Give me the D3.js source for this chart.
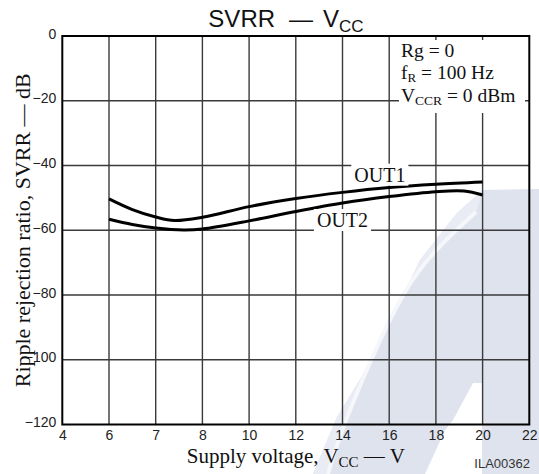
<!DOCTYPE html>
<html><head><meta charset="utf-8">
<script src="https://cdn.jsdelivr.net/npm/d3@7"></script>
<style>body{margin:0;background:#fff}svg{display:block}</style>
</head><body><svg id="c" width="539" height="474"></svg>
<script>
// ---- data ----
const xTicks = [4, 6, 7, 8, 10, 12, 14, 16, 18, 20, 22];
const yTicks = [0, -20, -40, -60, -80, -100, -120];
const out1V  = [6, 6.5, 7, 7.4, 8, 10, 12, 14, 16, 18, 20];
const out1dB = [-50.3, -53.6, -55.9, -57.0, -56.0, -52.7, -50.2, -48.3, -46.8, -45.8, -45.1];
const out2V  = [6, 6.5, 7, 7.6, 8, 10, 12, 14, 16, 18, 19.2, 20];
const out2dB = [-56.6, -58.2, -59.3, -59.9, -59.6, -57.1, -54.2, -51.6, -49.6, -48.1, -47.9, -49.1];

const L = 62.3, R = 529.3, T = 36, B = 424.5;
const svg = d3.select("#c");
const SERIF = "'Liberation Serif','Times New Roman',serif";
const SANS = "'Liberation Sans',Arial,sans-serif";

const x = d3.scaleLinear().domain(xTicks)
  .range(xTicks.map((d, i) => L + i * (R - L) / (xTicks.length - 1)));
const y = d3.scaleLinear().domain([0, -120]).range([T, B]);

// ---- watermark (decorative) ----
const wm = svg.append("g");
wm.append("path").attr("fill", "#dfe3ee")
  .attr("d", "M313,474 L337,417 L370,363 L393,317 L420,260 L457,213 L483,190 L539,189 L539,474 Z");
wm.append("path").attr("fill", "#e9ecf4")
  .attr("d", "M313,474 L337,417 L370,363 L393,317 L420,260 L457,213 L483,190 L476,212 L412,277 L381,337 L358,390 L338,440 L328,474 Z");
wm.append("path").attr("fill", "none").attr("stroke", "#f6f7fb").attr("stroke-width", 4)
  .attr("d", d3.line().curve(d3.curveBasis)([[476,212],[440,245],[410,280],[381,337],[358,390],[338,440],[328,474]]));
wm.append("path").attr("fill", "#fff")
  .attr("d", "M473,383 L482,383 L482,474 L425,474 L445,430 L453,420 Z");

// ---- grid ----
const g = svg.append("g");
g.selectAll("line.v").data(xTicks.slice(1, -1)).join("line")
  .attr("x1", d => x(d)).attr("x2", d => x(d)).attr("y1", T).attr("y2", B)
  .attr("stroke", "#3a3a3a").attr("stroke-width", 1.4);
g.selectAll("line.h").data(yTicks.slice(1, -1)).join("line")
  .attr("x1", L).attr("x2", R).attr("y1", d => y(d)).attr("y2", d => y(d))
  .attr("stroke", "#3a3a3a").attr("stroke-width", 1.4);

// ---- axes labels ----
const yAxis = svg.append("g").attr("transform", `translate(${L},0)`)
  .call(d3.axisLeft(y).tickValues(yTicks).tickSize(0).tickPadding(6)
    .tickFormat(d => d === 0 ? "0" : "\u2212" + Math.abs(d)));
yAxis.select(".domain").remove();
yAxis.selectAll("text").attr("font-family", SANS).attr("font-size", 14).attr("fill", "#222").attr("dy", "0.15em");

const xAxis = svg.append("g").attr("transform", `translate(0,${B})`)
  .call(d3.axisBottom(x).tickValues(xTicks).tickSize(0).tickPadding(6).tickFormat(d3.format("d")));
xAxis.select(".domain").remove();
xAxis.selectAll("text").attr("font-family", SANS).attr("font-size", 14).attr("fill", "#222");

// ---- annotation box ----
svg.append("rect").attr("x", 399).attr("y", 40).attr("width", 126).attr("height", 73).attr("fill", "#fff");
const ann = svg.append("g").attr("font-family", SERIF).attr("font-size", 19.5).attr("fill", "#111");
ann.append("text").attr("x", 401).attr("y", 56.7).text("Rg = 0");
const t2 = ann.append("text").attr("x", 401).attr("y", 78.5);
t2.append("tspan").text("f");
t2.append("tspan").attr("font-size", 13).attr("dy", 3).text("R");
t2.append("tspan").attr("dy", -3).text(" = 100 Hz");
const t3 = ann.append("text").attr("x", 401).attr("y", 101.7);
t3.append("tspan").text("V");
t3.append("tspan").attr("font-size", 13.5).attr("dy", 3).text("CCR");
t3.append("tspan").attr("dy", -3).text(" = 0 dBm");

// ---- frame ----
svg.append("rect").attr("x", L).attr("y", T).attr("width", R - L).attr("height", B - T)
  .attr("fill", "none").attr("stroke", "#000").attr("stroke-width", 2);

// ---- curves ----
const line = d3.line().x(d => x(d[0])).y(d => y(d[1])).curve(d3.curveCatmullRom.alpha(0.5));
svg.append("path").datum(out1V.map((v, i) => [v, out1dB[i]]))
  .attr("d", line).attr("fill", "none").attr("stroke", "#000").attr("stroke-width", 3);
svg.append("path").datum(out2V.map((v, i) => [v, out2dB[i]]))
  .attr("d", line).attr("fill", "none").attr("stroke", "#000").attr("stroke-width", 3);

// ---- series labels ----
function label(txt, vx, vy) {
  const gg = svg.append("g");
  const r = gg.append("rect").attr("fill", "#fff");
  const t = gg.append("text").attr("x", x(vx)).attr("y", y(vy)).attr("text-anchor", "middle")
    .attr("font-family", SERIF).attr("font-size", 20).attr("fill", "#111").text(txt);
  const bb = t.node().getBBox();
  r.attr("x", bb.x - 3).attr("y", bb.y).attr("width", bb.width + 6).attr("height", bb.height);
}
label("OUT1", 15.6, -45.0);
label("OUT2", 14.0, -59.0);

// ---- titles ----
const title = svg.append("text").attr("x", 286).attr("y", 27).attr("text-anchor", "middle")
  .attr("font-family", SANS).attr("font-size", 24).attr("fill", "#111");
title.append("tspan").text("SVRR");
title.append("tspan").attr("dx", 14).text("\u2014");
title.append("tspan").attr("dx", 10).text("V");
title.append("tspan").attr("font-size", 17).attr("dy", 5).text("CC");

const xt = svg.append("text").attr("x", (L + R) / 2).attr("y", 463).attr("text-anchor", "middle")
  .attr("font-family", SERIF).attr("font-size", 21).attr("fill", "#111");
xt.append("tspan").text("Supply voltage, V");
xt.append("tspan").attr("font-size", 15).attr("dy", 4).text("CC");
xt.append("tspan").attr("dy", -4).text(" \u2014 V");

svg.append("text").attr("transform", `translate(29.5,${(T + B) / 2}) rotate(-90)`)
  .attr("text-anchor", "middle").attr("font-family", SERIF).attr("font-size", 22).attr("fill", "#111")
  .text("Ripple rejection ratio, SVRR \u2014 dB");

svg.append("text").attr("x", 530).attr("y", 468).attr("text-anchor", "end")
  .attr("font-family", SANS).attr("font-size", 13).attr("fill", "#333").text("ILA00362");
</script></body></html>
